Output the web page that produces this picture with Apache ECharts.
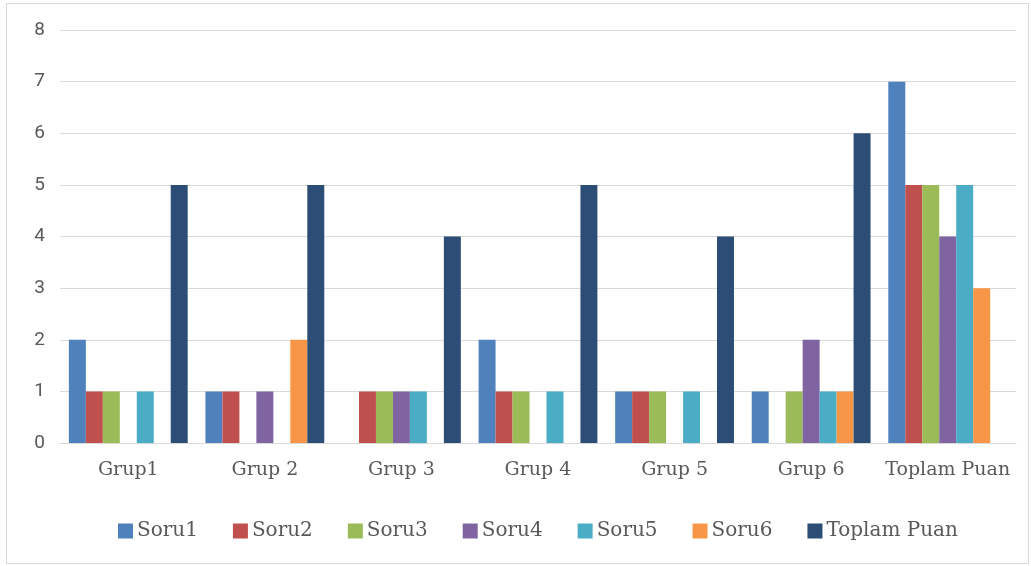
<!DOCTYPE html>
<html>
<head>
<meta charset="utf-8">
<script src="https://cdn.jsdelivr.net/npm/echarts@6/dist/echarts.min.js"></script>
<style>
  body { margin: 0; background: #fff; }
  #frame { position: absolute; left: 6px; top: 3px; width: 1021px; height: 559px; border: 1px solid #d9d9d9; }
  #chart { position: absolute; left: 0; top: 0; width: 1031px; height: 566px; }
</style>
</head>
<body>
<div id="frame"></div>
<div id="chart"></div>
<script>
  // categories and series
  var groups = ['Grup1', 'Grup 2', 'Grup 3', 'Grup 4', 'Grup 5', 'Grup 6', 'Toplam Puan'];
  var seriesNames = ['Soru1', 'Soru2', 'Soru3', 'Soru4', 'Soru5', 'Soru6', 'Toplam Puan'];
  var soru1 = [2, 1, 0, 2, 1, 1, 7];
  var soru2 = [1, 1, 1, 1, 1, 0, 5];
  var soru3 = [1, 0, 1, 1, 1, 1, 5];
  var soru4 = [0, 1, 1, 0, 0, 2, 4];
  var soru5 = [1, 0, 1, 1, 1, 1, 5];
  var soru6 = [0, 2, 0, 0, 0, 1, 3];
  var toplam = [5, 5, 4, 5, 4, 6, 0];
  var colors = ['#4f81bd', '#c0504d', '#9bbb59', '#8064a2', '#4bacc6', '#f79646', '#2c4d75'];

  var allData = [soru1, soru2, soru3, soru4, soru5, soru6, toplam];
  var series = allData.map(function (d, i) {
    return {
      name: seriesNames[i],
      type: 'bar',
      data: d,
      barGap: 0,
      barCategoryGap: '13%',
      itemStyle: { color: colors[i] }
    };
  });

  var myChart = echarts.init(document.getElementById('chart'));
  myChart.setOption({
    animation: false,
    color: colors,
    grid: { left: 60, right: 15, top: 30, bottom: 123 },
    legend: {
      top: 516,
      left: 113,
      itemWidth: 15,
      itemHeight: 15,
      itemGap: 35,
      icon: 'rect',
      textStyle: { fontFamily: 'DejaVu Serif', fontSize: 20, color: '#595959', padding: [0, 0, 0, -1] },
      data: seriesNames
    },
    xAxis: {
      type: 'category',
      data: groups,
      axisLine: { lineStyle: { color: '#d9d9d9' } },
      axisTick: { show: false },
      axisLabel: { interval: 0, fontFamily: 'DejaVu Serif', fontSize: 19, color: '#595959', margin: 18 }
    },
    yAxis: {
      type: 'value',
      min: 0,
      max: 8,
      interval: 1,
      axisLine: { show: false },
      axisTick: { show: false },
      splitLine: { lineStyle: { color: '#d9d9d9', width: 1 } },
      axisLabel: { fontFamily: 'Roboto', fontSize: 19, color: '#595959', margin: 15 }
    },
    series: series
  });
</script>
</body>
</html>
